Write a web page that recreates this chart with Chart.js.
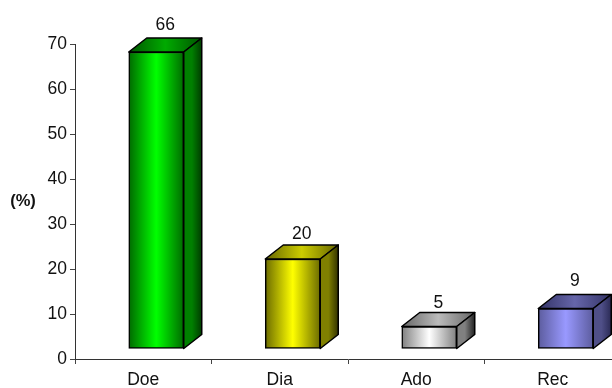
<!DOCTYPE html>
<html>
<head>
<meta charset="utf-8">
<style>
  html, body { margin: 0; padding: 0; background: #fff; overflow: hidden; width: 612px; height: 388px; }
  canvas { display: block; }
</style>
<script src="https://cdn.jsdelivr.net/npm/chart.js@4/dist/chart.umd.min.js"></script>
</head>
<body>
<canvas id="chart" width="621" height="388"></canvas>
<script>
const categories = ['Doe', 'Dia', 'Ado', 'Rec'];
const percentages = [66, 20, 5, 9];
const yTicks = [0, 10, 20, 30, 40, 50, 60, 70];
const axisLabel = '(%)';

// [edge, centre] colours for each bar's front, top and side faces
const frontColors = [['#006a00', '#00ff00'], ['#6b6b00', '#ffff00'], ['#808080', '#ffffff'], ['#5c5c9e', '#9999ff']];
const topColors = [['#005500', '#00aa00'], ['#666600', '#cccc00'], ['#666666', '#bbbbbb'], ['#333366', '#6666aa']];
const sideColors = [['#008000', '#003c00'], ['#808000', '#333300'], ['#808080', '#222222'], ['#4f4f88', '#2a2a55']];
const valueLift = [13, 11, 9, 13];

const BAR_WIDTH = 55, DEPTH_X = 18, DEPTH_Y = 14, FLOOR_X = 13, FLOOR_Y = -10;
const FONT = '"Liberation Sans", Arial, sans-serif';

function faceGradient(ctx, x0, x1, stops) {
  const g = ctx.createLinearGradient(x0, 0, x1, 0);
  g.addColorStop(0, stops[0]);
  g.addColorStop(0.5, stops[1]);
  g.addColorStop(1, stops[0]);
  return g;
}

function sideGradient(ctx, x0, x1, stops) {
  const g = ctx.createLinearGradient(x0, 0, x1, 0);
  g.addColorStop(0, stops[0]);
  g.addColorStop(0.45, stops[0]);
  g.addColorStop(1, stops[1]);
  return g;
}

// Extrudes each bar: shifts the library's bars to the raised floor and adds top and side faces.
const extrudedBars = {
  id: 'extrudedBars',
  beforeDatasetsDraw(chart) {
    const ctx = chart.ctx;
    chart.getDatasetMeta(0).data.forEach((bar, i) => {
      const half = bar.width / 2;
      const l = bar.x - half + FLOOR_X, r = bar.x + half + FLOOR_X;
      const t = bar.y + FLOOR_Y, b = bar.base + FLOOR_Y;
      ctx.save();
      ctx.lineWidth = 1.5;
      ctx.strokeStyle = '#000';
      ctx.lineJoin = 'round';
      ctx.beginPath();
      ctx.moveTo(l, t);
      ctx.lineTo(l + DEPTH_X, t - DEPTH_Y);
      ctx.lineTo(r + DEPTH_X, t - DEPTH_Y);
      ctx.lineTo(r, t);
      ctx.closePath();
      ctx.fillStyle = faceGradient(ctx, l, r + DEPTH_X, topColors[i]);
      ctx.fill();
      ctx.stroke();
      ctx.beginPath();
      ctx.moveTo(r, t);
      ctx.lineTo(r + DEPTH_X, t - DEPTH_Y);
      ctx.lineTo(r + DEPTH_X, b - DEPTH_Y);
      ctx.lineTo(r, b);
      ctx.closePath();
      ctx.fillStyle = sideGradient(ctx, r, r + DEPTH_X, sideColors[i]);
      ctx.fill();
      ctx.stroke();
      ctx.restore();
    });
    ctx.save();
    ctx.translate(FLOOR_X, FLOOR_Y);
  },
  afterDatasetsDraw(chart) {
    const ctx = chart.ctx;
    ctx.restore();
    ctx.save();
    ctx.fillStyle = '#111';
    ctx.font = '17.5px ' + FONT;
    ctx.textAlign = 'center';
    ctx.textBaseline = 'middle';
    chart.getDatasetMeta(0).data.forEach((bar, i) => {
      const cx = bar.x + FLOOR_X + DEPTH_X / 2;
      const top = bar.y + FLOOR_Y - DEPTH_Y;
      ctx.fillText(String(percentages[i]), cx, top - valueLift[i]);
    });
    ctx.font = 'bold 16.5px ' + FONT;
    ctx.fillText(axisLabel, 23, 201);
    ctx.restore();
  }
};

new Chart(document.getElementById('chart'), {
  type: 'bar',
  data: {
    labels: categories,
    datasets: [{
      data: percentages,
      barThickness: BAR_WIDTH,
      clip: false,
      borderWidth: 1.5,
      borderColor: '#000',
      borderSkipped: false,
      backgroundColor(c) {
        // The first pass runs before layout, when the scale has no pixel positions yet.
        const cx = c.chart.scales.x ? c.chart.scales.x.getPixelForValue(c.dataIndex) : NaN;
        if (!Number.isFinite(cx)) return frontColors[c.dataIndex][1];
        return faceGradient(c.chart.ctx, cx - BAR_WIDTH / 2, cx + BAR_WIDTH / 2, frontColors[c.dataIndex]);
      }
    }]
  },
  options: {
    responsive: false,
    animation: false,
    events: [],
    layout: { padding: { top: 44, left: 0, right: 0, bottom: 0 } },
    plugins: { legend: { display: false }, tooltip: { enabled: false } },
    scales: {
      x: {
        offset: true,
        grid: { drawOnChartArea: false, drawTicks: true, tickLength: 5, color: '#444', offset: true },
        border: { color: '#333', width: 1 },
        ticks: { color: '#111', font: { family: FONT, size: 17.5 }, padding: 6, maxRotation: 0, autoSkip: false },
        afterFit(s) { s.height = 29; }
      },
      y: {
        min: 0,
        max: 70,
        afterBuildTicks(s) { s.ticks = yTicks.map(v => ({ value: v })); },
        grid: { drawOnChartArea: false, drawTicks: true, tickLength: 5, color: '#444' },
        border: { color: '#333', width: 1 },
        ticks: { color: '#111', font: { family: FONT, size: 17.5 }, padding: 3 },
        afterFit(s) { s.width = 75; }
      }
    }
  },
  plugins: [extrudedBars]
});
</script>
</body>
</html>
